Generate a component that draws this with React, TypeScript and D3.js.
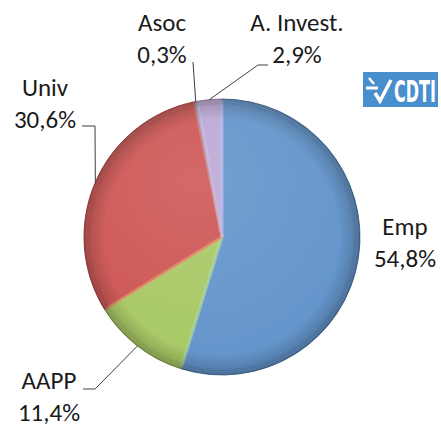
import React from 'react';
import * as d3 from 'd3';

const categories = ['Emp', 'AAPP', 'Univ', 'Asoc', 'A. Invest.'];
const shares = [54.8, 11.4, 30.6, 0.3, 2.9];
const sliceColors = ['#6394CA', '#A8C864', '#CD5553', '#8A8A9A', '#BCA8D6'];

const width = 441;
const height = 426;
const cx = 222;
const cy = 237;
const radius = 138;
const font = 'Carlito, Calibri, Lato, sans-serif';

// hand placed label boxes, like the original (x = text center, y = first baseline)
const labelLayout: Record<string, { x: number; y: number; hook?: [number, number][] }> = {
  Emp: { x: 405, y: 235 },
  AAPP: { x: 49, y: 389, hook: [[83, 389], [95, 389]] },
  Univ: { x: 45, y: 96, hook: [[82, 126], [95, 126]] },
  Asoc: { x: 162, y: 31, hook: [[193, 62]] },
  'A. Invest.': { x: 297, y: 31, hook: [[268, 65], [258, 65]] },
};

const fmt = (v: number) => v.toFixed(1).replace('.', ',') + '%';

export default function App() {
  const data = categories.map((c, i) => ({ name: c, value: shares[i], color: sliceColors[i] }));
  const pie = d3.pie<typeof data[0]>().sort(null).value(d => d.value);
  const arcs = pie(data);
  const arc = d3.arc<d3.PieArcDatum<typeof data[0]>>().innerRadius(0).outerRadius(radius);
  const edgePoint = (a: d3.PieArcDatum<typeof data[0]>) => {
    const m = (a.startAngle + a.endAngle) / 2;
    return [cx + radius * Math.sin(m), cy - radius * Math.cos(m)] as [number, number];
  };
  const line = d3.line();

  return (
    <svg width={width} height={height} style={{ position: 'absolute', left: 0, top: 0 }}>
      <defs>
        <radialGradient id="rim" cx="50%" cy="50%" r="50%">
          <stop offset="0.85" stopColor="#000" stopOpacity={0} />
          <stop offset="0.95" stopColor="#000" stopOpacity={0.14} />
          <stop offset="1" stopColor="#000" stopOpacity={0.35} />
        </radialGradient>
        <radialGradient id="shine" cx="40%" cy="30%" r="70%">
          <stop offset="0" stopColor="#fff" stopOpacity={0.12} />
          <stop offset="1" stopColor="#fff" stopOpacity={0} />
        </radialGradient>
      </defs>
      <rect width={width} height={height} fill="#fff" />
      <g transform={`translate(${cx},${cy})`}>
        {arcs.map(a => (
          <path key={a.data.name} d={arc(a) || ''} fill={a.data.color}
            stroke={d3.color(a.data.color)!.darker(0.7).toString()} strokeWidth={1} />
        ))}
        {arcs.map(a => (
          <path key={a.data.name + 'hl'} d={arc(a) || ''} fill="none"
            stroke={d3.color(a.data.color)!.brighter(0.6).toString()} strokeWidth={3}
            strokeOpacity={0.4} transform="scale(0.985)" />
        ))}
        <circle r={radius} fill="url(#rim)" />
        <circle r={radius} fill="url(#shine)" />
      </g>
      {arcs.map(a => {
        const lay = labelLayout[a.data.name];
        const pts: [number, number][] = lay.hook ? [...lay.hook, edgePoint(a)] : [];
        return (
          <g key={a.data.name + 'lab'}>
            {pts.length > 0 && (
              <path d={line(pts) || ''} fill="none" stroke="#404040" strokeWidth={1} />
            )}
            <text x={lay.x} y={lay.y} textAnchor="middle" fontFamily={font} fontSize={25} fill="#1a1a1a">
              {a.data.name}
            </text>
            <text x={lay.x} y={lay.y + 32} textAnchor="middle" fontFamily={font} fontSize={25} fill="#1a1a1a">
              {fmt(a.data.value)}
            </text>
          </g>
        );
      })}
      <g transform="translate(363,72)">
        <rect width={75} height={35} fill="#4A8FCD" />
        <path d="M6,6 L11,12" stroke="#fff" strokeWidth={2.5} fill="none" />
        <path d="M3,16 H15" stroke="#fff" strokeWidth={3} fill="none" />
        <path d="M12,21 L17,29 L28,8" stroke="#fff" strokeWidth={3.5} fill="none" />
        <text x={52} y={30} textAnchor="middle" fontFamily="'DejaVu Sans Condensed', 'Liberation Sans Narrow', sans-serif"
          fontWeight="bold" fontSize={31} fill="#fff" textLength={42} lengthAdjust="spacingAndGlyphs">CDTI</text>
      </g>
    </svg>
  );
}
